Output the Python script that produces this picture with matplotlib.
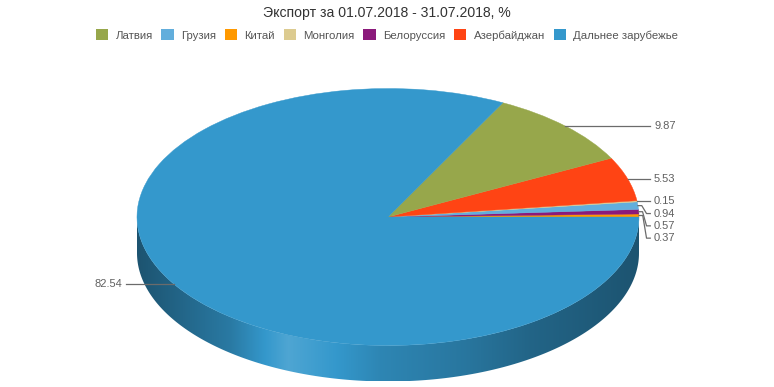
import numpy as np
import matplotlib.pyplot as plt
from matplotlib.patches import Polygon, Patch
from matplotlib.colors import to_rgb

plt.rcParams['font.family'] = ['Liberation Sans', 'DejaVu Sans']

# legend order
labels = ['Латвия', 'Грузия', 'Китай', 'Монголия', 'Белоруссия', 'Азербайджан', 'Дальнее зарубежье']
values = [9.87, 0.94, 0.37, 0.15, 0.57, 5.53, 82.54]
colors = ['#97a74b', '#62aedc', '#ff9900', '#dccb90', '#8b1a7b', '#ff4414', '#3498cc']
# order of the slices around the pie, counterclockwise from 3 o'clock
pie_order = ['Китай', 'Белоруссия', 'Грузия', 'Монголия', 'Азербайджан', 'Латвия', 'Дальнее зарубежье']

title = 'Экспорт за 01.07.2018 - 31.07.2018, %'

idx = [labels.index(n) for n in pie_order]
vals = np.array([values[i] for i in idx])
cols = [colors[i] for i in idx]

depth = 0.28  # thickness of the disc, in radius units


def shade(color, u):
    # horizontal light across the side of the disc
    us = [-1.0, -0.63, -0.40, -0.03, 0.30, 0.57, 1.0]
    fs = [0.55, 0.80, 1.13, 0.88, 0.78, 0.66, 0.55]
    f = np.interp(u, us, fs)
    c = np.array(to_rgb(color))
    out = np.where(f[:, None] <= 1, c[None, :] * f[:, None],
                   c[None, :] + (1 - c[None, :]) * (f[:, None] - 1))
    return np.clip(out, 0, 1)


fig = plt.figure(figsize=(7.74, 3.87), dpi=100)
ax = fig.add_axes([0, 0, 1, 1])

xlim = (-388 / 251, (774 - 388) / 251)
ylim = ((217 - 387) / 128.5, 217 / 128.5)

# side of the disc (front half only)
angles = np.concatenate([[0], np.cumsum(vals) / vals.sum() * 360])
for k in range(len(vals)):
    a, b = max(angles[k], 180), min(angles[k + 1], 360)
    if b <= a:
        continue
    ts = np.radians(np.linspace(a, b, 200))
    top = np.column_stack([np.cos(ts), np.sin(ts)])
    bot = np.column_stack([np.cos(ts[::-1]), np.sin(ts[::-1]) - depth])
    poly = Polygon(np.vstack([top, bot]), closed=True, facecolor='none', edgecolor='none')
    ax.add_patch(poly)
    u = np.linspace(-1, 1, 400)
    img = shade(cols[k], u)[None, :, :]
    im = ax.imshow(img, extent=[-1, 1, -1 - depth, 0.05], aspect='auto',
                   interpolation='bilinear', zorder=1)
    im.set_clip_path(poly)

wedges, _ = ax.pie(vals, colors=cols, startangle=0, counterclock=True, radius=1,
                   center=(0, 0), wedgeprops=dict(linewidth=0.3))
for w in wedges:
    w.set_zorder(2)
    w.set_edgecolor(w.get_facecolor())

# data labels with connectors
mids = np.radians((angles[:-1] + angles[1:]) / 2)
spacing = 12.3 / 128.5
right = [k for k in range(len(vals)) if np.cos(mids[k]) >= 0]
right.sort(key=lambda k: -np.sin(mids[k]))
prev = None
label_y = {}
for k in right:
    y = np.sin(mids[k])
    if prev is not None and y > prev - spacing:
        y = prev - spacing
    label_y[k] = y
    prev = y
for k in range(len(vals)):
    if k not in label_y:
        label_y[k] = np.sin(mids[k])

for k in range(len(vals)):
    ax_, ay_ = np.cos(mids[k]), np.sin(mids[k])
    ly = label_y[k]
    if ax_ >= 0:
        xs = [ax_, min(ax_ + 0.015, 1.02), 1.03, 1.045]
        tx, ha = 1.06, 'left'
    else:
        xs = [ax_, max(ax_ - 0.015, -1.02), -1.03, -1.045]
        tx, ha = -1.06, 'right'
    ys = [ay_, ay_, ly, ly]
    ax.plot(xs, ys, color='#6b6b6b', lw=0.9, zorder=3)
    ax.text(tx, ly, '%.2f' % vals[k], ha=ha, va='center', fontsize=8,
            color='#606060', zorder=3)

ax.set_aspect('auto')
ax.set_xlim(*xlim)
ax.set_ylim(*ylim)
ax.axis('off')

fig.text(0.5, 1 - 12.5 / 387, title, ha='center', va='center', fontsize=10.1, color='#333333')

handles = [Patch(facecolor=c, edgecolor='none') for c in colors]
fig.legend(handles, labels, loc='center', bbox_to_anchor=(0.5, 1 - 35 / 387), ncol=7,
           frameon=False, handlelength=1.1, handleheight=1.1, handletextpad=0.62,
           columnspacing=0.77, fontsize=8.2, labelcolor='#555555', borderpad=0)

fig.savefig('out.png', dpi=100)
